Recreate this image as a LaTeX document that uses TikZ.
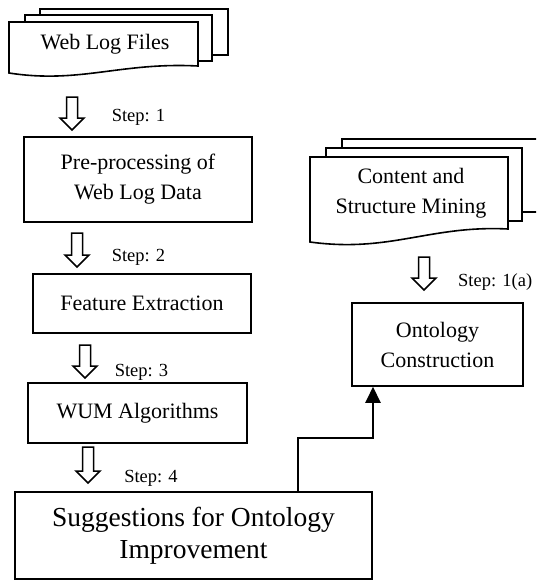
\documentclass[tikz,border=0pt]{standalone}
\usepackage{fontspec}
\setmainfont{Liberation Serif}
\usetikzlibrary{arrows.meta}
\tikzset{
  boxnode/.style={draw,line width=1.6pt,align=center,inner sep=0pt,font=\fontsize{22}{30}\selectfont},
  bigbox/.style={boxnode,font=\fontsize{27.5}{32}\selectfont},
  steplabel/.style={inner sep=0pt,font=\fontsize{18.5}{22}\selectfont},
  doc/.style={draw,line width=1.6pt,fill=white},
  hollow/.style={draw,line width=1.5pt,fill=white,line join=miter},
  conn/.style={line width=2.6pt,-{Triangle[width=15pt,length=16pt]}}
}
\newcommand\hollowarrow[3]{% x, top y, tip y
  \draw[hollow] (#1-5.5,-#2) -- (#1+5.5,-#2) -- (#1+5.5,-#3+12) -- (#1+12,-#3+12) -- (#1,-#3)
    -- (#1-12,-#3+12) -- (#1-5.5,-#3+12) -- cycle;}
\begin{document}
\begin{tikzpicture}[x=1pt,y=1pt]
\useasboundingbox (0,0) rectangle (536,-581);
\clip (0,0) rectangle (536,-581);
% Web Log Files document stack
\draw[doc] (40,-9) rectangle (228,-55);
\draw[doc] (25,-15) rectangle (212,-61);
\draw[doc] (9,-73) -- (9,-22) -- (198,-22) -- (198,-66) .. controls (120,-62) and (80,-84) .. (9,-73) -- cycle;
\node[inner sep=0pt,font=\fontsize{22}{30}\selectfont] (wlf) at (105,-44) {Web Log Files};
% Content and Structure Mining document stack
\draw[doc] (342,-139) rectangle (560,-212);
\draw[doc] (326,-148) rectangle (522,-221);
\draw[doc] (310,-242) -- (310,-157) -- (508,-157) -- (508,-229) .. controls (430,-225) and (390,-253) .. (310,-242) -- cycle;
\node[inner sep=0pt,align=center,font=\fontsize{22}{30}\selectfont] (csm) at (411,-193) {Content and\\Structure Mining};
% boxes
\node[boxnode,minimum width=228pt,minimum height=85pt] (pre) at (138,-179.5) {Pre-processing of\\Web Log Data};
\node[boxnode,minimum width=218pt,minimum height=59pt] (fe) at (142,-303.5) {Feature Extraction};
\node[boxnode,minimum width=219pt,minimum height=60pt] (wum) at (137.5,-413) {WUM Algorithms};
\node[bigbox,minimum width=357pt,minimum height=87pt] (sug) at (193.5,-535.5) {Suggestions for Ontology\\Improvement};
\node[boxnode,minimum width=171pt,minimum height=83pt] (ont) at (437.5,-344.5) {Ontology\\Construction};
% hollow step arrows
\hollowarrow{72}{97}{130}
\hollowarrow{77}{233}{267}
\hollowarrow{85}{345}{378}
\hollowarrow{88}{447}{483}
\hollowarrow{424}{257}{290}
% step labels
\node[steplabel] (s1) at (138.5,-117) {Step: 1};
\node[steplabel] (s2) at (138.5,-257) {Step: 2};
\node[steplabel] (s3) at (141.5,-372) {Step: 3};
\node[steplabel] (s4) at (151,-478) {Step: 4};
\node[steplabel,anchor=west] (s1a) at (458,-282) {Step: 1(a)};
% connector
\coordinate (cx) at (298,0);
\coordinate (mid) at (373,-438);
\draw[conn] (sug.north -| cx) |- (mid) -- (ont.south -| mid);
\end{tikzpicture}
\end{document}
